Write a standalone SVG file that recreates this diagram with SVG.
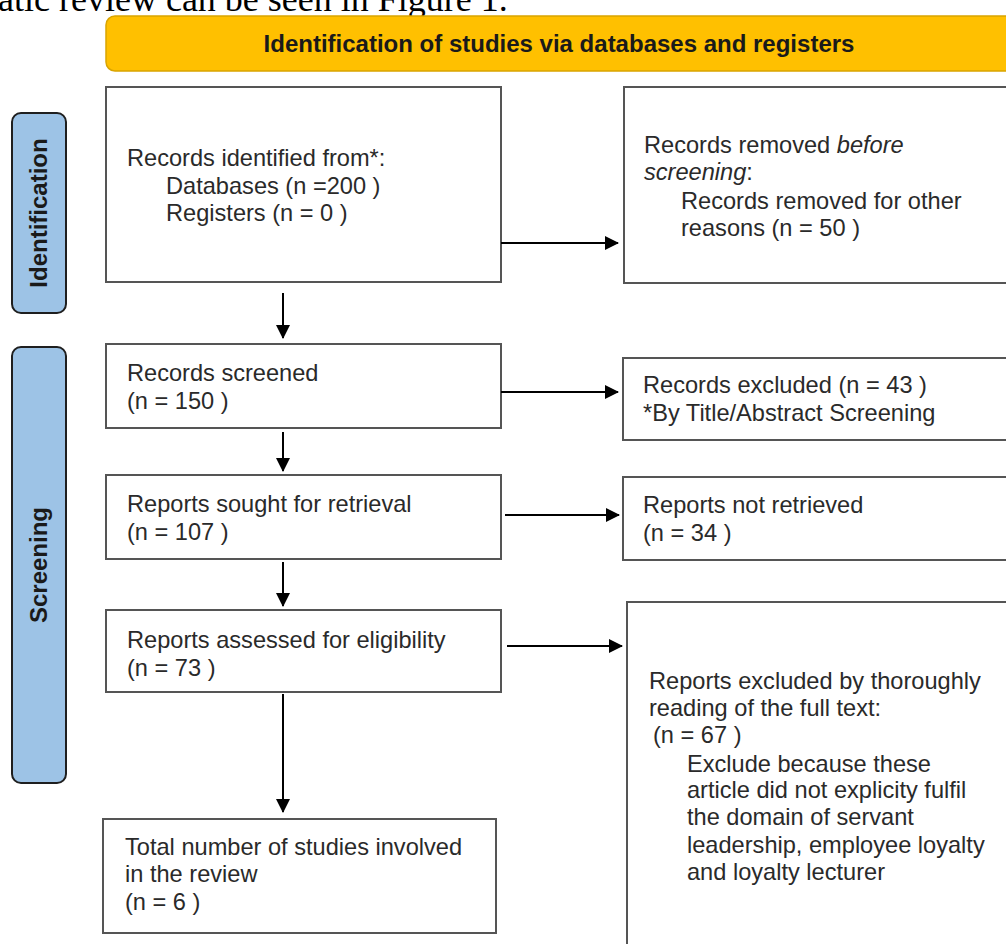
<svg xmlns="http://www.w3.org/2000/svg" width="1006" height="944" viewBox="0 0 1006 944">
<style>
.bg{fill:#ffffff}
.box{fill:#ffffff;stroke:#555555;stroke-width:2}
.side{fill:#9DC3E6;stroke:#1f1f1f;stroke-width:2}
.hdr{fill:#FFC000;stroke:#D9A400;stroke-width:1.5}
.t{font-family:"Liberation Sans",Arial,sans-serif;font-size:23.6px;fill:#2a2a2a}
.tb{font-family:"Liberation Sans",Arial,sans-serif;font-size:24px;font-weight:bold;fill:#1a1a1a}
.cap{font-family:"Liberation Serif","Times New Roman",serif;font-size:36px;fill:#000000}
.arr{stroke:#000000;stroke-width:2;fill:none;marker-end:url(#ah)}
</style>
<defs>
<marker id="ah" markerWidth="14" markerHeight="14" refX="13" refY="7" orient="auto" markerUnits="userSpaceOnUse">
<path d="M0,0 L14,7 L0,14 Z" fill="#000000"/>
</marker>
</defs>
<rect class="bg" x="0" y="0" width="1006" height="944"/>
<text class="cap" x="-2" y="11">atic review can be seen in Figure 1.</text>

<g id="header">
<rect class="hdr" x="106" y="16" width="920" height="55" rx="9"/>
<text class="tb" x="559" y="52" text-anchor="middle">Identification of studies via databases and registers</text>
</g>

<g id="side-identification">
<rect class="side" x="12" y="113" width="54" height="200" rx="9"/>
<text class="tb" transform="translate(47,213) rotate(-90)" text-anchor="middle">Identification</text>
</g>

<g id="side-screening">
<rect class="side" x="12" y="347" width="54" height="436" rx="9"/>
<text class="tb" transform="translate(47,565) rotate(-90)" text-anchor="middle">Screening</text>
</g>

<g id="records-identified">
<rect class="box" x="106" y="87" width="395" height="195"/>
<text class="t" x="127" y="166">Records identified from*:</text>
<text class="t" x="166" y="194">Databases (n =200 )</text>
<text class="t" x="166" y="221">Registers (n = 0 )</text>
</g>

<g id="records-removed">
<rect class="box" x="624" y="87" width="400" height="196"/>
<text class="t" x="644" y="153">Records removed <tspan font-style="italic">before</tspan></text>
<text class="t" x="644" y="180"><tspan font-style="italic">screening</tspan>:</text>
<text class="t" x="681" y="209">Records removed for other</text>
<text class="t" x="681" y="236">reasons (n = 50 )</text>
</g>

<g id="records-screened">
<rect class="box" x="106" y="344" width="395" height="84"/>
<text class="t" x="127" y="381">Records screened</text>
<text class="t" x="127" y="409">(n = 150 )</text>
</g>

<g id="records-excluded">
<rect class="box" x="623" y="358" width="400" height="82"/>
<text class="t" x="643" y="393">Records excluded (n = 43 )</text>
<text class="t" x="643" y="421">*By Title/Abstract Screening</text>
</g>

<g id="reports-sought">
<rect class="box" x="106" y="475" width="395" height="84"/>
<text class="t" x="127" y="512">Reports sought for retrieval</text>
<text class="t" x="127" y="540">(n = 107 )</text>
</g>

<g id="reports-not-retrieved">
<rect class="box" x="623" y="477" width="400" height="83"/>
<text class="t" x="643" y="513">Reports not retrieved</text>
<text class="t" x="643" y="541">(n = 34 )</text>
</g>

<g id="reports-assessed">
<rect class="box" x="106" y="610" width="395" height="82"/>
<text class="t" x="127" y="648">Reports assessed for eligibility</text>
<text class="t" x="127" y="676">(n = 73 )</text>
</g>

<g id="reports-excluded">
<rect class="box" x="627" y="602" width="400" height="360"/>
<text class="t" x="649" y="689">Reports excluded by thoroughly</text>
<text class="t" x="649" y="716">reading of the full text:</text>
<text class="t" x="653" y="743">(n = 67 )</text>
<text class="t" x="687" y="772">Exclude because these</text>
<text class="t" x="687" y="798">article did not explicity fulfil</text>
<text class="t" x="687" y="825">the domain of servant</text>
<text class="t" x="687" y="853">leadership, employee loyalty</text>
<text class="t" x="687" y="880">and loyalty lecturer</text>
</g>

<g id="included">
<rect class="box" x="103" y="819" width="393" height="114"/>
<text class="t" x="125" y="855">Total number of studies involved</text>
<text class="t" x="125" y="882">in the review</text>
<text class="t" x="125" y="910">(n = 6 )</text>
</g>

<g id="connectors">
<line class="arr" x1="501" y1="243" x2="618" y2="243"/>
<line class="arr" x1="283" y1="293" x2="283" y2="338"/>
<line class="arr" x1="501" y1="392" x2="618" y2="392"/>
<line class="arr" x1="283" y1="432" x2="283" y2="471"/>
<line class="arr" x1="505" y1="515" x2="619" y2="515"/>
<line class="arr" x1="283" y1="562" x2="283" y2="606"/>
<line class="arr" x1="507" y1="646" x2="622" y2="646"/>
<line class="arr" x1="283" y1="694" x2="283" y2="812"/>
</g>
</svg>
